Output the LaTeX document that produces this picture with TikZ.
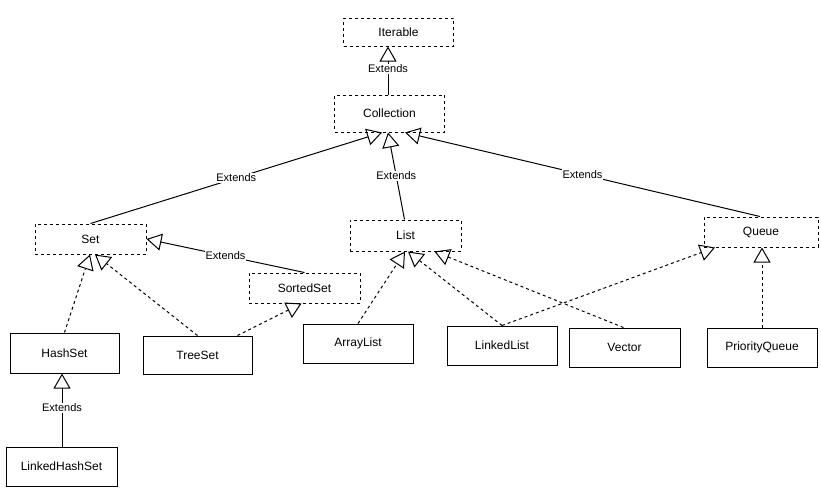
\documentclass[tikz,border=0pt]{standalone}
\usepackage{fontspec}
\setmainfont{Liberation Sans}
\usetikzlibrary{arrows.meta}
\begin{document}
\begin{tikzpicture}[x=1pt,y=-1pt,
  box/.style={draw,line width=1pt,rectangle,inner sep=0pt,font=\fontsize{12}{14}\selectfont},
  iface/.style={box,dash pattern=on 3pt off 3pt},
  cls/.style={box},
  ext/.style={line width=1pt,-{Triangle[open,length=15pt,width=17pt]}},
  impl/.style={ext,dash pattern=on 3pt off 3pt},
  lbl/.style={fill=white,inner sep=1pt,font=\fontsize{11}{13}\selectfont}]
\useasboundingbox[fill=white] (0,0) rectangle (821,491);
% interfaces
\node[iface,minimum width=110pt,minimum height=28pt] (iter) at (398.5,32) {Iterable};
\node[iface,minimum width=110pt,minimum height=37pt] (coll) at (389.5,113.5) {Collection};
\node[iface,minimum width=111pt,minimum height=30pt] (set) at (90.5,239) {Set};
\node[iface,minimum width=111pt,minimum height=30pt] (sorted) at (304.5,288) {SortedSet};
\node[iface,minimum width=111pt,minimum height=31pt] (list) at (405.5,235.5) {List};
\node[iface,minimum width=114pt,minimum height=30pt] (queue) at (761,232) {Queue};
% classes
\node[cls,minimum width=109pt,minimum height=40pt] (hashset) at (64.5,353) {HashSet};
\node[cls,minimum width=109pt,minimum height=38pt] (treeset) at (197.5,355) {TreeSet};
\node[cls,minimum width=110pt,minimum height=39pt] (arraylist) at (358,343.5) {ArrayList};
\node[cls,minimum width=110pt,minimum height=39pt] (linkedlist) at (502,345.5) {LinkedList};
\node[cls,minimum width=111pt,minimum height=39pt] (vector) at (624.5,347.5) {Vector};
\node[cls,minimum width=110pt,minimum height=39pt] (pq) at (762,347.5) {PriorityQueue};
\node[cls,minimum width=111pt,minimum height=39pt] (lhs) at (61.5,466.5) {LinkedHashSet};
% extends (solid)
\draw[ext] ([xshift=-1.5pt]coll.north) -- node[lbl,pos=0.53] {Extends} ([xshift=-10.5pt]iter.south);
\draw[ext] (set.north) -- node[lbl,pos=0.5] {Extends} ([xshift=-7.5pt]coll.south);
\draw[ext] ([xshift=-1pt]list.north) -- node[lbl,pos=0.5] {Extends} ([xshift=-1.5pt]coll.south);
\draw[ext] ([xshift=-1pt]queue.north) -- node[lbl,pos=0.5] {Extends} ([xshift=15.5pt]coll.south);
\draw[ext] (sorted.north) -- node[lbl,pos=0.5] {Extends} (set.east);
\draw[ext] ([xshift=0.5pt]lhs.north) -- node[lbl,pos=0.53] {Extends} ([xshift=-2.5pt]hashset.south);
% implements (dashed)
\draw[impl] (hashset.north) -- ([xshift=-0.5pt]set.south);
\draw[impl] (treeset.north) -- ([xshift=4.5pt]set.south);
\draw[impl] ([xshift=40pt]treeset.north) -- ([xshift=-3pt]sorted.south);
\draw[impl] (arraylist.north) -- ([xshift=-0.5pt]list.south);
\draw[impl] (linkedlist.north) -- ([xshift=2.5pt]list.south);
\draw[impl] ([xshift=-1pt]vector.north) -- ([xshift=29pt]list.south);
\draw[impl] (linkedlist.north) -- ([xshift=-46pt]queue.south);
\draw[impl] (pq.north) -- ([xshift=1pt]queue.south);
\end{tikzpicture}
\end{document}
